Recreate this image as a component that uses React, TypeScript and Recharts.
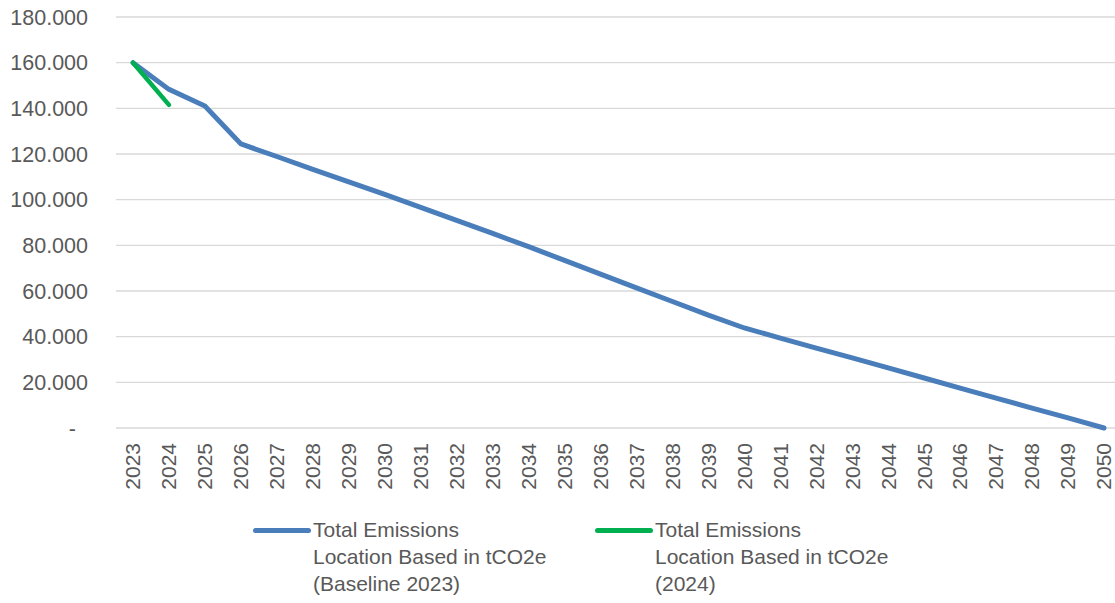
import { CartesianGrid, Legend, Line, LineChart, XAxis, YAxis } from 'recharts'

const years = [
  '2023', '2024', '2025', '2026', '2027', '2028', '2029', '2030', '2031', '2032',
  '2033', '2034', '2035', '2036', '2037', '2038', '2039', '2040', '2041', '2042',
  '2043', '2044', '2045', '2046', '2047', '2048', '2049', '2050',
]

// Baseline 2023 pathway (tCO2e)
const baseline = [
  160000, 148300, 141000, 124400, 118900, 113300, 107800, 102300, 96600, 90900,
  85200, 79400, 73400, 67400, 61400, 55400, 49400, 43800, 39400, 35000,
  30700, 26300, 21900, 17500, 13100, 8700, 4400, 0,
]

// 2024 pathway, only two points
const pathway2024: (number | null)[] = [160000, 141500]

const yTicks = [0, 20000, 40000, 60000, 80000, 100000, 120000, 140000, 160000, 180000]

const baselineLabel = ['Total Emissions', 'Location Based in tCO2e', '(Baseline 2023)']
const label2024 = ['Total Emissions', 'Location Based in tCO2e', '(2024)']

const BLUE = '#4A7EBB'
const GREEN = '#00B050'
const TEXT = '#595959'
const FONT = '"Liberation Sans", Arial, sans-serif'

const data = years.map((year, i) => ({
  year,
  baseline: baseline[i],
  p2024: pathway2024[i] ?? null,
}))

function formatThousands(v: number) {
  return String(v).replace(/\B(?=(\d{3})+(?!\d))/g, '.')
}

function YTick({ x, y, payload }: { x?: number; y?: number; payload?: { value: number } }) {
  const v = payload?.value ?? 0
  const isZero = v === 0
  return (
    <text
      x={(x ?? 0) - (isZero ? 12 : 0)}
      y={y}
      dy="0.35em"
      textAnchor="end"
      fill={TEXT}
      fontSize={21.5}
      fontFamily={FONT}
    >
      {isZero ? '-' : formatThousands(v)}
    </text>
  )
}

function XTick({ x, y, payload }: { x?: number; y?: number; payload?: { value: string } }) {
  return (
    <text
      x={x}
      y={y}
      dy="0.35em"
      textAnchor="end"
      transform={`rotate(-90, ${x}, ${y})`}
      fill={TEXT}
      fontSize={21}
      fontFamily={FONT}
    >
      {payload?.value}
    </text>
  )
}

function ChartLegend() {
  const items = [
    { color: BLUE, lines: baselineLabel, width: 342 },
    { color: GREEN, lines: label2024, width: 300 },
  ]
  return (
    <div style={{ display: 'flex', fontFamily: FONT, fontSize: 21, color: TEXT }}>
      {items.map(item => (
        <div key={item.lines.join()} style={{ display: 'flex', width: item.width }}>
          <div
            style={{
              width: 58,
              height: 5,
              borderRadius: 3,
              background: item.color,
              marginTop: 12,
              marginRight: 2,
              flexShrink: 0,
            }}
          />
          <div style={{ lineHeight: '27px' }}>
            {item.lines.map(l => (
              <div key={l} style={{ whiteSpace: 'nowrap' }}>{l}</div>
            ))}
          </div>
        </div>
      ))}
    </div>
  )
}

export default function App() {
  return (
    <div style={{ position: 'absolute', left: 0, top: 0, width: 1115, height: 603, background: '#fff' }}>
      <LineChart width={1115} height={603} data={data} margin={{ top: 17, right: 0, bottom: 0, left: 0 }}>
        <CartesianGrid vertical={false} stroke="#D9D9D9" strokeWidth={1.3} />
        <XAxis
          dataKey="year"
          interval={0}
          height={175}
          axisLine={false}
          tickLine={false}
          tickSize={0}
          tickMargin={15}
          padding={{ left: 17, right: 11 }}
          tick={<XTick />}
        />
        <YAxis
          width={116}
          domain={[0, 180000]}
          ticks={yTicks}
          axisLine={false}
          tickLine={false}
          tickSize={0}
          tickMargin={28}
          tick={<YTick />}
        />
        <Legend
          layout="horizontal"
          verticalAlign="middle"
          wrapperStyle={{ top: 516, left: 253, width: 700 }}
          content={<ChartLegend />}
        />
        <Line
          type="linear"
          dataKey="baseline"
          name="Total Emissions Location Based in tCO2e (Baseline 2023)"
          stroke={BLUE}
          strokeWidth={5}
          strokeLinecap="round"
          dot={false}
          activeDot={false}
          isAnimationActive={false}
        />
        <Line
          type="linear"
          dataKey="p2024"
          name="Total Emissions Location Based in tCO2e (2024)"
          stroke={GREEN}
          strokeWidth={4.5}
          strokeLinecap="round"
          dot={false}
          activeDot={false}
          connectNulls={false}
          isAnimationActive={false}
        />
      </LineChart>
    </div>
  )
}
